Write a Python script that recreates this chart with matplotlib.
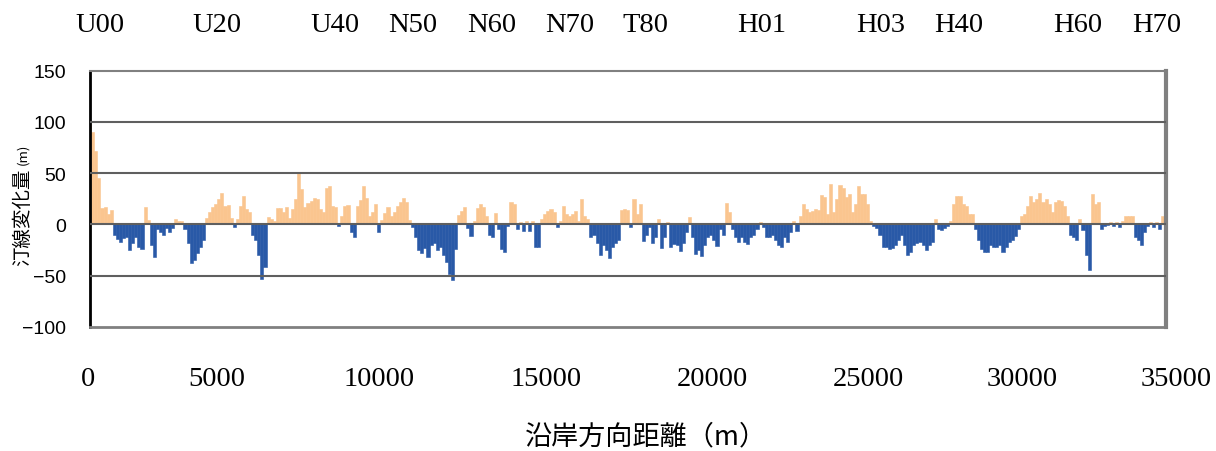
import matplotlib.pyplot as plt
import numpy as np

# 沿岸方向距離 (m) 100 m ごと
distance = np.arange(0, 35100, 100)

# 汀線変化量 (m)
change = [
    98, 90, 72, 45, 16, 17, 10, 14, -10, -14,
    -17, -13, -12, -25, -18, -12, -22, -24, 17, 4,
    -20, -32, -5, -8, -10, -4, -8, -4, 5, 3,
    3, -5, -18, -38, -35, -28, -22, -15, 6, 12,
    17, 20, 25, 31, 18, 19, 6, -3, 5, 18,
    28, 15, 12, -10, -15, -30, -53, -42, 7, 5,
    3, 16, 16, 12, 17, 6, 15, 25, 50, 34,
    17, 21, 23, 26, 25, 15, 12, 35, 37, 18,
    17, -2, 8, 18, 19, -8, -12, 18, 24, 37,
    26, 8, 12, 20, -8, 4, 11, 17, 8, 12,
    18, 22, 26, 22, 4, -3, -12, -25, -28, -23,
    -32, -20, -18, -25, -22, -30, -37, -49, -54, -24,
    9, 13, 17, -4, -11, 3, 16, 20, 17, 8,
    -10, -12, 11, -5, -24, -27, -2, 22, 20, -5,
    2, -7, 3, -7, 3, -22, -22, 5, 10, 13,
    15, 12, -3, 3, 18, 10, 8, 10, 13, 3,
    25, 8, 5, -12, -10, -18, -30, -20, -25, -33,
    -22, -18, -15, 14, 15, 14, -3, 25, 10, 20,
    -16, -10, -3, -18, -12, 5, -23, -12, 2, -22,
    -19, -20, -26, -18, -8, 7, -12, -29, -25, -31,
    -20, -12, -10, -15, -21, -5, -10, 21, 12, -5,
    -12, -17, -12, -17, -19, -12, -10, -5, 2, -3,
    -12, -12, -10, -15, -20, -22, -12, -17, -8, 3,
    -7, 8, 20, 15, 12, 13, 15, 14, 29, 27,
    10, 39, 12, 25, 38, 35, 27, 30, 12, 20,
    37, 30, 30, 20, 3, -2, -4, -10, -22, -22,
    -24, -23, -20, -15, -10, -20, -30, -27, -20, -18,
    -17, -20, -25, -20, -17, 5, -5, -6, -4, -2,
    3, 20, 28, 28, 20, 18, 10, 10, -5, -15,
    -24, -27, -27, -20, -22, -22, -20, -27, -22, -17,
    -15, -11, -5, 8, 10, 18, 28, 22, 25, 31,
    22, 25, 20, 12, 22, 24, 23, 18, 8, -10,
    -12, -15, 5, -6, -30, -45, 30, 20, 22, -5,
    -2, -1, 2, -2, 2, -3, 3, 8, 8, 8,
    -12, -15, -20, -8, -2, 2, -3, 2, -5, 8,
    -4,
]

# 測線名 (上段) とその位置 (m)
stations = ['U00', 'U20', 'U40', 'N50', 'N60', 'N70', 'T80',
            'H01', 'H03', 'H40', 'H60', 'H70']
station_pos = [335, 4140, 7977, 10514, 13083, 15620, 18059,
               21864, 25734, 28270, 32140, 34709]

xtick_labels = ['0', '5000', '10000', '15000', '20000', '25000', '30000', '35000']
yticks = [-100, -50, 0, 50, 100, 150]

change = np.array(change)
colors = np.where(change >= 0, '#FAC58F', '#2959A7')

W, H = 1216, 452
fig = plt.figure(figsize=(W / 100, H / 100), dpi=100)
ax = fig.add_axes([89.7 / W, 1 - 327.7 / H, (1166 - 89.7) / W, (327.7 - 71.7) / H])

ax.bar(distance, change, width=100, color=colors, edgecolor=colors,
       linewidth=0.4, zorder=2)

ax.set_xlim(0, 35000)
ax.set_ylim(-100, 150)
ax.set_xticks([])
ax.set_yticks(yticks)
ax.set_yticklabels([str(v).replace('-', '\u2212') for v in yticks],
                   fontfamily='Liberation Sans', fontsize=14)
ax.tick_params(axis='y', length=0, pad=17)

for v in [100, 50, 0, -50]:
    ax.axhline(v, color='#5f5f5f', lw=1.5, zorder=3)

ax.spines['left'].set_color('black')
ax.spines['left'].set_linewidth(2)
ax.spines['top'].set_color('#808080')
ax.spines['top'].set_linewidth(1.5)
ax.spines['right'].set_color('#808080')
ax.spines['right'].set_linewidth(3)
ax.spines['bottom'].set_color('#808080')
ax.spines['bottom'].set_linewidth(2)

# 上段の測線名
for name, pos in zip(stations, station_pos):
    ax.text(pos, 1.182, name, transform=ax.get_xaxis_transform(),
            ha='center', va='center', fontfamily='Liberation Serif', fontsize=20.5)

# x 軸の目盛ラベル
xlab_px = [88, 217, 379, 546, 712, 868, 1022, 1176]
for lab, px in zip(xtick_labels, xlab_px):
    fig.text(px / W, 1 - 380 / H, lab, ha='center', va='center',
             fontfamily='Liberation Serif', fontsize=20.5)

fig.text(646 / W, 1 - 437 / H, '沿岸方向距離（m）', ha='center', va='center',
         fontfamily=['Noto Sans CJK JP', 'DejaVu Sans'], fontsize=19.5)

fig.text(23 / W, 1 - 266 / H, '汀線変化量', rotation=90, ha='center', va='bottom',
         fontfamily=['Noto Sans CJK JP', 'DejaVu Sans'], fontsize=14)
fig.text(23 / W, 1 - 165 / H, '(m)', rotation=90, ha='center', va='bottom',
         fontfamily=['Noto Sans CJK JP', 'DejaVu Sans'], fontsize=9.5)

plt.savefig('out.png', dpi=100)
